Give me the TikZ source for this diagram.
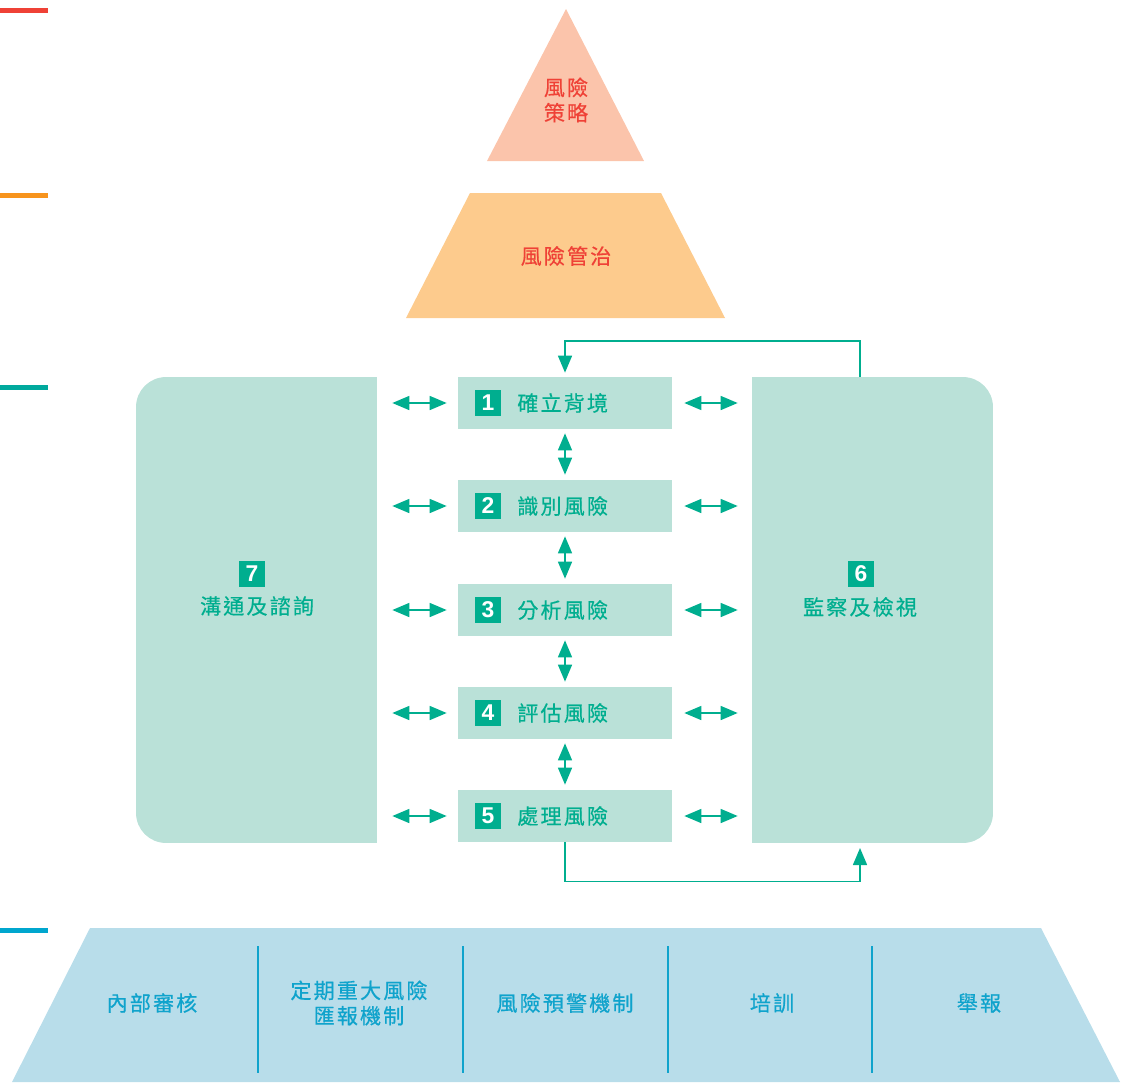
\documentclass[tikz,border=0pt]{standalone}
\usepackage{fontspec}
\usepackage{tikz}
\usetikzlibrary{arrows.meta}
\usetikzlibrary{calc}
\newfontfamily\cjk[LetterSpace=10,FakeBold=0.5]{Noto Sans CJK TC}
\newfontfamily\numfont{Liberation Sans}
\definecolor{markred}{HTML}{EF4136}
\definecolor{markorange}{HTML}{F7941D}
\definecolor{markteal}{HTML}{00A99D}
\definecolor{markblue}{HTML}{00A6CE}
\definecolor{peach}{HTML}{FBC4AB}
\definecolor{apricot}{HTML}{FDCB8D}
\definecolor{mint}{HTML}{BAE1D8}
\definecolor{teal}{HTML}{00AE8F}
\definecolor{skyblue}{HTML}{B8DDEA}
\definecolor{deepsky}{HTML}{0FA3CC}
\tikzset{
  levelmark/.style={line width=0.1cm},
  redtext/.style={text=markred,font=\cjk\fontsize{12}{14.4}\selectfont,align=center,inner sep=0},
  tealtext/.style={text=teal,font=\cjk\fontsize{12}{14.4}\selectfont,inner sep=0},
  bluetext/.style={text=deepsky,font=\cjk\fontsize{12}{14.4}\selectfont,align=center,inner sep=0},
  numbox/.style={fill=teal,text=white,font=\numfont\bfseries\fontsize{13}{13}\selectfont,
    minimum size=0.52cm,inner sep=0},
  stepbox/.style={fill=mint,minimum width=4.28cm,minimum height=1.04cm,inner sep=0},
  bigbox/.style={fill=mint,rounded corners=0.6cm,minimum width=4.82cm,minimum height=9.32cm,inner sep=0},
  twoway/.style={teal,line width=0.03cm,{Triangle[length=0.34cm,width=0.28cm]}-{Triangle[length=0.34cm,width=0.28cm]}},
  feedback/.style={teal,line width=0.03cm,-{Triangle[length=0.34cm,width=0.28cm]}},
  divider/.style={deepsky,line width=0.04cm}
}
\begin{document}
\begin{tikzpicture}[x=0.02cm,y=-0.02cm]
  \useasboundingbox (0,0) rectangle (1128,1082);
  %level marks on the left
  \draw[levelmark,markred] (0,10)--(48,10);
  \draw[levelmark,markorange] (0,195)--(48,195);
  \draw[levelmark,markteal] (0,387)--(48,387);
  \draw[levelmark,markblue] (0,930)--(48,930);
  %strategy and governance
  \fill[peach] (566,9)--(644,161)--(487,161)--cycle;
  \node[redtext] (strategy) at (566,100) {風險\\策略};
  \fill[apricot] (470,193)--(661,193)--(725,318)--(406,318)--cycle;
  \node[redtext] (governance) at (566,256) {風險管治};
  %communication and monitoring
  \node[bigbox] (consult) at (256.5,610) {};
  \fill[mint] (consult.north) rectangle (consult.south east);
  \node[numbox] (n7) at (252,574) {7};
  \node[tealtext] (consult label) at (257,606) {溝通及諮詢};
  \node[bigbox] (monitor) at (872.5,610) {};
  \fill[mint] (monitor.north west) rectangle (monitor.south);
  \node[numbox] (n6) at (861,574) {6};
  \node[tealtext] (monitor label) at (860,607) {監察及檢視};
  %process steps
  \foreach \i/\t/\y in {1/確立背境/403,2/識別風險/506,3/分析風險/610,4/評估風險/713,5/處理風險/816}{
    \node[stepbox] (step\i) at (565,\y) {};
    \node[numbox] (n\i) at (488,\y) {\i};
    \node[tealtext,anchor=west] (t\i) at (517,\y) {\t};
    \draw[twoway,shorten <=0.3cm,shorten >=0.22cm] (consult.east |- step\i.west) -- (step\i.west);
    \draw[twoway,shorten <=0.24cm,shorten >=0.28cm] (step\i.east) -- (monitor.west |- step\i.east);
  }
  \foreach \i/\j in {1/2,2/3,3/4,4/5}
    \draw[twoway,shorten <=0.08cm,shorten >=0.1cm] (step\i.south) -- (step\j.north);
  %feedback loop
  \coordinate (mon top) at (860,377);
  \coordinate (mon bottom) at (860,843);
  \draw[feedback,shorten >=0.08cm] (mon top) -- ++(0,-36) -| (step1.north);
  \draw[feedback,shorten >=0.1cm] (step5.south) -- ++(0,39) -| (mon bottom);
  %supporting mechanisms
  \fill[skyblue] (90,928)--(1041,928)--(1120,1082)--(12,1082)--cycle;
  \foreach \x in {258,463,668,872}
    \draw[divider] (\x,946)--(\x,1073);
  \node[bluetext] (audit) at (152,1003) {內部審核};
  \node[bluetext] (report) at (359,1003) {定期重大風險\\匯報機制};
  \node[bluetext] (warning) at (565,1003) {風險預警機制};
  \node[bluetext] (training) at (772,1003) {培訓};
  \node[bluetext] (whistle) at (979,1003) {舉報};
\end{tikzpicture}
\end{document}
